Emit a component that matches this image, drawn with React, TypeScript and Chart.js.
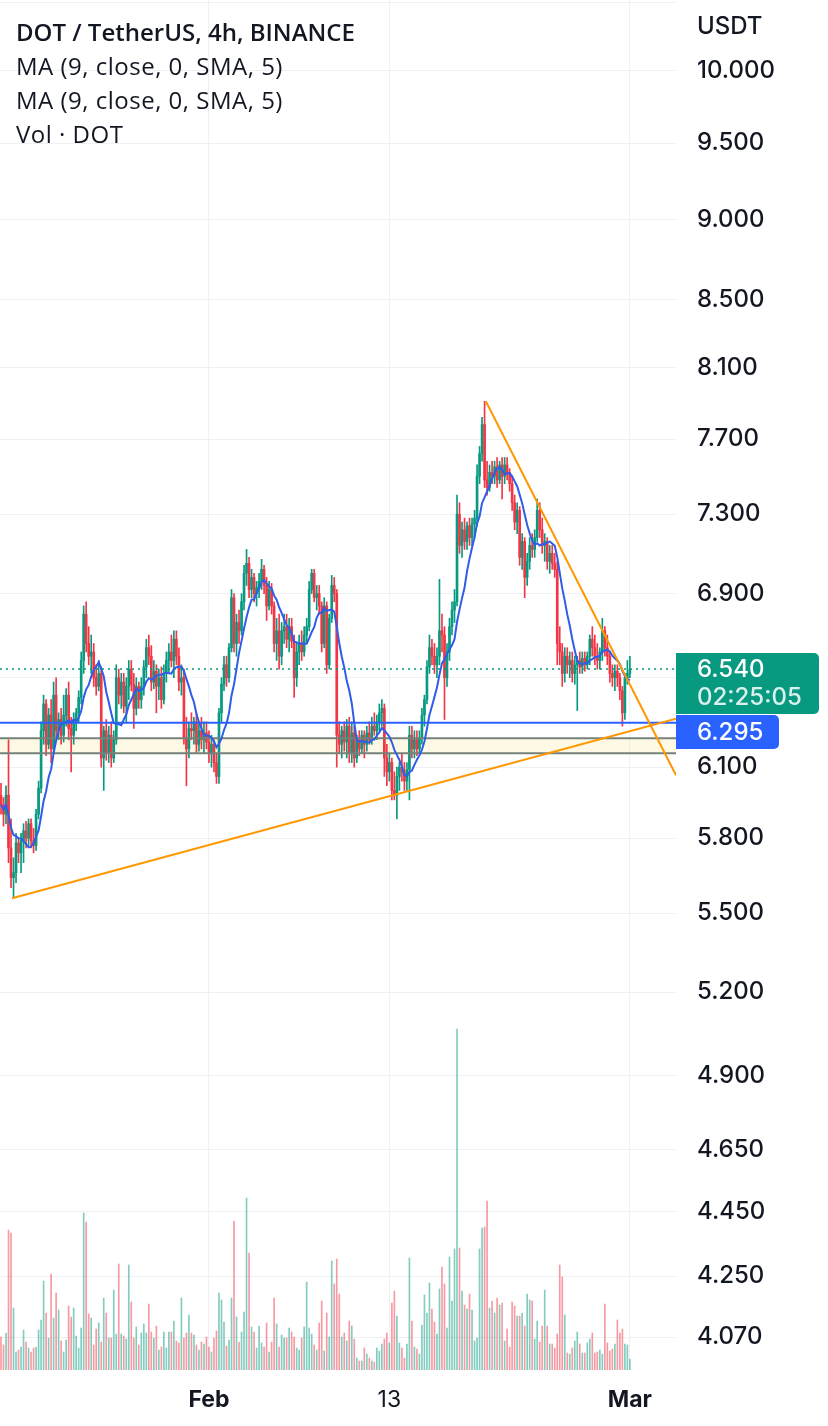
import React, { useEffect, useRef } from 'react';
import { Chart, registerables } from 'chart.js';

Chart.register(...registerables);

// ---------- texts ----------
const TITLE = 'DOT / TetherUS, 4h, BINANCE';
const LEGEND_LINES = ['MA (9, close, 0, SMA, 5)', 'MA (9, close, 0, SMA, 5)', 'Vol · DOT'];
const CURRENCY = 'USDT';
const COUNTDOWN = '02:25:05';

// ---------- levels ----------
const LAST_PRICE = 6.54;
const SUPPORT_PRICE = 6.295;
const ZONE_TOP = 6.227;
const ZONE_BOTTOM = 6.161;
const MA_LENGTH = 9;

// ---------- axes ----------
const X_MIN = -0.4;
const X_MAX = 269.4;
const Y_MIN = 3.976;
const Y_MAX = 10.517;
const VOL_MAX = 1370;

const xTickIndex = [83, 155, 251];
const xTickLabels = ['Feb', '13', 'Mar'];
const xTickBold = [true, false, true];
const yTickValues = [4.07, 4.25, 4.45, 4.65, 4.9, 5.2, 5.5, 5.8, 6.1, 6.5, 6.9, 7.3, 7.7, 8.1, 8.5, 9.0, 9.5, 10.0, 10.5];
const yTickHidden = [6.5, 10.5];

// ---------- trend lines (candle index, price) ----------
const trendUpX = [4.4, 269.4];
const trendUpY = [5.558, 6.313];
const trendDownX = [193.5, 269.4];
const trendDownY = [7.91, 6.065];

// ---------- 4h candles, Jan 18 04:00 → Mar 1 ----------
const opens = [
  5.98, 5.94, 5.90, 5.98, 5.76, 5.64, 5.66, 5.78, 5.74, 5.79,
  5.83, 5.80, 5.86, 5.79, 5.77, 5.90, 6.01, 6.26, 6.38, 6.20,
  6.33, 6.18, 6.42, 6.26, 6.31, 6.24, 6.33, 6.42, 6.27, 6.24,
  6.30, 6.34, 6.41, 6.58, 6.80, 6.66, 6.60, 6.62, 6.50, 6.46,
  6.52, 6.14, 6.26, 6.16, 6.24, 6.14, 6.22, 6.50, 6.42, 6.48,
  6.37, 6.46, 6.54, 6.47, 6.36, 6.46, 6.40, 6.46, 6.55, 6.64,
  6.60, 6.48, 6.53, 6.46, 6.50, 6.40, 6.52, 6.58, 6.62, 6.58,
  6.68, 6.60, 6.48, 6.50, 6.23, 6.18, 6.27, 6.26, 6.30, 6.20,
  6.26, 6.22, 6.25, 6.21, 6.16, 6.20, 6.12, 6.06, 6.34, 6.47,
  6.56, 6.50, 6.64, 6.88, 6.66, 6.76, 6.72, 6.86, 7.00, 7.05,
  6.92, 6.98, 6.90, 6.93, 6.96, 7.02, 6.94, 6.84, 6.92, 6.84,
  6.66, 6.72, 6.60, 6.72, 6.74, 6.68, 6.74, 6.67, 6.50, 6.62,
  6.66, 6.62, 6.70, 6.74, 6.92, 7.00, 6.88, 6.90, 6.84, 6.66,
  6.84, 6.56, 6.78, 6.94, 6.90, 6.24, 6.20, 6.26, 6.21, 6.28,
  6.16, 6.25, 6.14, 6.22, 6.18, 6.24, 6.20, 6.25, 6.22, 6.28,
  6.26, 6.30, 6.34, 6.36, 6.14, 6.08, 6.12, 6.00, 5.98, 6.06,
  6.10, 6.08, 6.04, 6.09, 6.24, 6.18, 6.22, 6.18, 6.23, 6.33,
  6.40, 6.55, 6.64, 6.60, 6.56, 6.60, 6.72, 6.70, 6.50, 6.62,
  6.74, 6.82, 6.86, 7.30, 7.14, 7.22, 7.16, 7.24, 7.18, 7.25,
  7.28, 7.50, 7.62, 7.78, 7.48, 7.44, 7.52, 7.50, 7.55, 7.48,
  7.56, 7.50, 7.56, 7.52, 7.46, 7.36, 7.26, 7.32, 7.08, 7.16,
  6.98, 7.06, 7.14, 7.12, 7.18, 7.32, 7.22, 7.14, 7.16, 7.06,
  7.10, 7.05, 7.02, 6.66, 6.62, 6.52, 6.60, 6.56, 6.58, 6.52,
  6.56, 6.58, 6.55, 6.59, 6.56, 6.60, 6.68, 6.64, 6.60, 6.58,
  6.62, 6.72, 6.64, 6.60, 6.52, 6.50, 6.53, 6.50, 6.44, 6.34,
  6.50, 6.52,
];
const highs = [
  6.03, 5.97, 6.02, 6.22, 5.88, 5.72, 5.82, 5.80, 5.82, 5.86,
  5.87, 5.88, 5.88, 5.84, 5.92, 6.04, 6.30, 6.42, 6.40, 6.36,
  6.40, 6.48, 6.50, 6.34, 6.36, 6.42, 6.45, 6.48, 6.32, 6.34,
  6.36, 6.44, 6.62, 6.84, 6.86, 6.74, 6.70, 6.66, 6.56, 6.58,
  6.55, 6.28, 6.31, 6.28, 6.30, 6.26, 6.56, 6.54, 6.52, 6.52,
  6.50, 6.58, 6.58, 6.52, 6.50, 6.48, 6.50, 6.58, 6.68, 6.70,
  6.65, 6.58, 6.56, 6.54, 6.55, 6.56, 6.62, 6.66, 6.70, 6.72,
  6.72, 6.64, 6.56, 6.54, 6.32, 6.30, 6.34, 6.32, 6.34, 6.29,
  6.32, 6.30, 6.30, 6.26, 6.24, 6.22, 6.16, 6.36, 6.50, 6.60,
  6.60, 6.66, 6.92, 6.90, 6.80, 6.82, 6.90, 7.04, 7.12, 7.08,
  7.02, 7.00, 6.96, 7.00, 7.07, 7.04, 6.98, 6.96, 6.95, 6.86,
  6.78, 6.80, 6.76, 6.80, 6.80, 6.78, 6.78, 6.70, 6.66, 6.70,
  6.72, 6.74, 6.78, 6.96, 7.02, 7.02, 6.94, 6.94, 6.86, 6.88,
  6.86, 6.80, 6.99, 6.98, 6.92, 6.30, 6.28, 6.30, 6.31, 6.32,
  6.30, 6.28, 6.24, 6.26, 6.26, 6.26, 6.28, 6.30, 6.32, 6.34,
  6.33, 6.38, 6.40, 6.38, 6.20, 6.16, 6.14, 6.08, 6.10, 6.12,
  6.16, 6.12, 6.12, 6.28, 6.28, 6.26, 6.26, 6.26, 6.36, 6.42,
  6.58, 6.70, 6.68, 6.66, 6.64, 6.97, 6.80, 6.74, 6.66, 6.78,
  6.86, 6.92, 7.40, 7.36, 7.26, 7.28, 7.26, 7.28, 7.28, 7.32,
  7.56, 7.66, 7.82, 7.91, 7.58, 7.56, 7.58, 7.58, 7.60, 7.58,
  7.60, 7.60, 7.60, 7.54, 7.50, 7.40, 7.36, 7.34, 7.20, 7.18,
  7.10, 7.18, 7.20, 7.22, 7.38, 7.36, 7.28, 7.20, 7.18, 7.14,
  7.14, 7.10, 7.06, 6.74, 6.66, 6.64, 6.64, 6.62, 6.62, 6.60,
  6.60, 6.62, 6.62, 6.62, 6.62, 6.70, 6.74, 6.70, 6.66, 6.64,
  6.78, 6.74, 6.70, 6.62, 6.56, 6.56, 6.56, 6.52, 6.46, 6.52,
  6.58, 6.60,
];
const lows = [
  5.90, 5.85, 5.86, 5.70, 5.60, 5.56, 5.62, 5.70, 5.66, 5.70,
  5.76, 5.77, 5.76, 5.74, 5.75, 5.88, 5.99, 6.20, 6.15, 6.18,
  6.12, 6.16, 6.22, 6.22, 6.20, 6.21, 6.28, 6.22, 6.08, 6.20,
  6.26, 6.30, 6.38, 6.52, 6.62, 6.56, 6.52, 6.46, 6.42, 6.44,
  6.10, 6.00, 6.13, 6.12, 6.10, 6.12, 6.20, 6.38, 6.36, 6.34,
  6.30, 6.40, 6.44, 6.27, 6.33, 6.36, 6.36, 6.42, 6.50, 6.56,
  6.44, 6.45, 6.34, 6.40, 6.36, 6.38, 6.48, 6.52, 6.55, 6.50,
  6.56, 6.44, 6.42, 6.20, 6.02, 6.14, 6.22, 6.20, 6.16, 6.17,
  6.18, 6.16, 6.18, 6.12, 6.10, 6.08, 6.03, 6.03, 6.30, 6.44,
  6.46, 6.48, 6.62, 6.62, 6.60, 6.66, 6.70, 6.82, 6.94, 6.88,
  6.88, 6.86, 6.84, 6.88, 6.92, 6.90, 6.77, 6.82, 6.80, 6.62,
  6.58, 6.54, 6.56, 6.66, 6.64, 6.62, 6.64, 6.41, 6.46, 6.56,
  6.58, 6.60, 6.66, 6.72, 6.90, 6.86, 6.82, 6.80, 6.62, 6.64,
  6.52, 6.54, 6.76, 6.86, 6.10, 6.16, 6.14, 6.17, 6.14, 6.12,
  6.12, 6.10, 6.12, 6.15, 6.16, 6.14, 6.17, 6.20, 6.20, 6.24,
  6.22, 6.26, 6.28, 6.06, 6.02, 6.04, 5.96, 5.96, 5.88, 6.00,
  6.04, 6.00, 6.00, 5.96, 6.14, 6.14, 6.15, 6.16, 6.20, 6.28,
  6.38, 6.52, 6.56, 6.52, 6.50, 6.56, 6.62, 6.31, 6.46, 6.58,
  6.70, 6.76, 6.84, 7.10, 7.08, 7.12, 7.12, 7.14, 7.14, 7.18,
  7.24, 7.46, 7.58, 7.44, 7.40, 7.42, 7.46, 7.46, 7.44, 7.46,
  7.38, 7.46, 7.48, 7.42, 7.32, 7.22, 7.20, 7.04, 7.02, 6.88,
  6.94, 7.02, 7.08, 7.08, 7.16, 7.18, 7.10, 7.06, 7.02, 7.00,
  7.02, 6.98, 6.56, 6.56, 6.46, 6.48, 6.52, 6.50, 6.48, 6.47,
  6.35, 6.52, 6.52, 6.53, 6.54, 6.56, 6.60, 6.56, 6.54, 6.54,
  6.58, 6.60, 6.56, 6.48, 6.46, 6.44, 6.46, 6.40, 6.28, 6.31,
  6.47, 6.50,
];
const closes = [
  5.94, 5.90, 5.98, 5.76, 5.64, 5.66, 5.78, 5.74, 5.79, 5.83,
  5.80, 5.86, 5.79, 5.77, 5.90, 6.01, 6.26, 6.38, 6.20, 6.33,
  6.18, 6.42, 6.26, 6.31, 6.24, 6.33, 6.42, 6.27, 6.24, 6.30,
  6.34, 6.41, 6.58, 6.80, 6.66, 6.60, 6.62, 6.50, 6.46, 6.52,
  6.14, 6.26, 6.16, 6.24, 6.14, 6.22, 6.50, 6.42, 6.48, 6.37,
  6.46, 6.54, 6.47, 6.36, 6.46, 6.40, 6.46, 6.55, 6.64, 6.60,
  6.48, 6.53, 6.46, 6.50, 6.40, 6.52, 6.58, 6.62, 6.58, 6.68,
  6.60, 6.48, 6.50, 6.23, 6.18, 6.27, 6.26, 6.30, 6.20, 6.26,
  6.22, 6.25, 6.21, 6.16, 6.20, 6.12, 6.06, 6.34, 6.47, 6.56,
  6.50, 6.64, 6.88, 6.66, 6.76, 6.72, 6.86, 7.00, 7.05, 6.92,
  6.98, 6.90, 6.93, 6.96, 7.02, 6.94, 6.84, 6.92, 6.84, 6.66,
  6.72, 6.60, 6.72, 6.74, 6.68, 6.74, 6.67, 6.50, 6.62, 6.66,
  6.62, 6.70, 6.74, 6.92, 7.00, 6.88, 6.90, 6.84, 6.66, 6.84,
  6.56, 6.78, 6.94, 6.90, 6.24, 6.20, 6.26, 6.21, 6.28, 6.16,
  6.25, 6.14, 6.22, 6.18, 6.24, 6.20, 6.25, 6.22, 6.28, 6.26,
  6.30, 6.34, 6.36, 6.14, 6.08, 6.12, 6.00, 5.98, 6.06, 6.10,
  6.08, 6.04, 6.09, 6.24, 6.18, 6.22, 6.18, 6.23, 6.33, 6.40,
  6.55, 6.64, 6.60, 6.56, 6.60, 6.72, 6.70, 6.50, 6.62, 6.74,
  6.82, 6.86, 7.30, 7.14, 7.22, 7.16, 7.24, 7.18, 7.25, 7.28,
  7.50, 7.62, 7.78, 7.48, 7.44, 7.52, 7.50, 7.55, 7.48, 7.56,
  7.50, 7.56, 7.52, 7.46, 7.36, 7.26, 7.32, 7.08, 7.16, 6.98,
  7.06, 7.14, 7.12, 7.18, 7.32, 7.22, 7.14, 7.16, 7.06, 7.10,
  7.05, 7.02, 6.66, 6.62, 6.52, 6.60, 6.56, 6.58, 6.52, 6.56,
  6.58, 6.55, 6.59, 6.56, 6.60, 6.68, 6.64, 6.60, 6.58, 6.62,
  6.72, 6.64, 6.60, 6.52, 6.50, 6.53, 6.50, 6.44, 6.34, 6.50,
  6.52, 6.54,
];
// volume, in units of 10k DOT
const volumes = [
  33, 25, 37, 140, 137, 62, 18, 20, 23, 40,
  28, 22, 18, 22, 23, 40, 50, 89, 57, 32,
  96, 52, 77, 60, 29, 18, 30, 64, 53, 62,
  34, 22, 42, 157, 148, 56, 52, 25, 41, 47,
  28, 72, 57, 32, 32, 80, 36, 106, 36, 34,
  31, 105, 68, 32, 43, 25, 37, 46, 37, 66,
  38, 32, 44, 20, 23, 38, 22, 38, 38, 49,
  29, 27, 72, 32, 37, 55, 37, 35, 25, 20,
  28, 26, 33, 23, 18, 32, 39, 77, 70, 48,
  24, 30, 72, 149, 53, 28, 38, 58, 172, 117,
  43, 38, 22, 44, 27, 23, 47, 18, 28, 72,
  46, 23, 35, 32, 32, 42, 38, 33, 22, 20,
  32, 43, 88, 42, 36, 25, 20, 47, 69, 19,
  57, 33, 109, 86, 111, 76, 33, 37, 29, 49,
  44, 31, 12, 9, 9, 22, 16, 12, 9, 8,
  22, 19, 26, 31, 37, 27, 67, 79, 54, 27,
  22, 12, 26, 112, 49, 23, 21, 16, 45, 75,
  57, 87, 61, 48, 36, 81, 103, 86, 42, 113,
  69, 121, 341, 122, 79, 65, 61, 76, 60, 29,
  32, 121, 142, 143, 169, 62, 69, 57, 72, 65,
  67, 29, 41, 23, 68, 64, 54, 54, 57, 44,
  76, 70, 69, 31, 49, 28, 44, 80, 44, 26,
  26, 22, 36, 105, 93, 55, 17, 16, 22, 29,
  38, 26, 17, 17, 27, 31, 37, 17, 18, 20,
  16, 66, 27, 19, 21, 26, 50, 37, 41, 26,
  25, 11,
];

// ---------- styles ----------
const GREEN = '#089981';
const RED = '#f23645';
const VOL_GREEN = 'rgba(8, 153, 129, 0.5)';
const VOL_RED = 'rgba(242, 54, 69, 0.5)';
const MA_COLOR = '#2f5ce8';
const SUPPORT_COLOR = '#2962ff';
const TREND_COLOR = '#ff9800';
const ZONE_LINE = '#74827a';
const ZONE_FILL = 'rgba(250, 226, 120, 0.2)';
const GRID = '#eef0f3';
const TEXT = '#131722';
const AXIS_FONT = 'Inter, Roboto, "Noto Sans", sans-serif';
const X_FONT = 'Inter, Roboto, sans-serif';
const LEGEND_FONT = '"Open Sans", "Noto Sans", sans-serif';

function roundRight(ctx: CanvasRenderingContext2D, x: number, y: number, w: number, h: number, r: number) {
  ctx.beginPath();
  ctx.moveTo(x, y);
  ctx.lineTo(x + w - r, y);
  ctx.arcTo(x + w, y, x + w, y + r, r);
  ctx.lineTo(x + w, y + h - r);
  ctx.arcTo(x + w, y + h, x + w - r, y + h, r);
  ctx.lineTo(x, y + h);
  ctx.closePath();
}

const priceTags = {
  id: 'priceTags',
  afterDraw(chart: any) {
    const { ctx, chartArea, scales } = chart;
    const y = scales.y;
    const x0 = chartArea.right;
    const yLast = y.getPixelForValue(LAST_PRICE);
    ctx.save();
    ctx.font = `500 24px ${AXIS_FONT}`;
    ctx.textBaseline = 'middle';
    ctx.textAlign = 'left';
    // last price tag
    ctx.fillStyle = GREEN;
    roundRight(ctx, x0, yLast - 16, 143, 61, 5);
    ctx.fill();
    ctx.fillStyle = '#ffffff';
    ctx.fillText(LAST_PRICE.toFixed(3), x0 + 21, yLast + 1);
    ctx.fillStyle = 'rgba(255,255,255,0.85)';
    ctx.fillText(COUNTDOWN, x0 + 21, yLast + 29);
    // support tag
    const ySup = y.getPixelForValue(SUPPORT_PRICE);
    const top = Math.max(ySup - 17, yLast + 46);
    ctx.fillStyle = SUPPORT_COLOR;
    roundRight(ctx, x0, top, 103, 34, 5);
    ctx.fill();
    ctx.fillStyle = '#ffffff';
    ctx.fillText(SUPPORT_PRICE.toFixed(3), x0 + 21, top + 18);
    // currency
    ctx.fillStyle = TEXT;
    ctx.fillText(CURRENCY, x0 + 21, 27);
    ctx.restore();
  },
};

export default function App() {
  const ref = useRef<HTMLCanvasElement>(null);

  useEffect(() => {
    document.body.style.margin = '0';
    const idx = closes.map((_, i) => i);
    const isUp = idx.map((i) => closes[i] >= opens[i]);
    const ma = idx.map((i) => {
      const w = closes.slice(Math.max(0, i - MA_LENGTH + 1), i + 1);
      return w.reduce((a, b) => a + b, 0) / w.length;
    });
    const flat = (v: number) => [{ x: X_MIN, y: v }, { x: X_MAX, y: v }];

    const chart = new Chart(ref.current as HTMLCanvasElement, {
      type: 'bar',
      data: {
        datasets: [
          {
            type: 'line', label: 'Trend up',
            data: trendUpX.map((x, k) => ({ x, y: trendUpY[k] })),
            borderColor: TREND_COLOR, borderWidth: 2, pointRadius: 0, order: 1,
          },
          {
            type: 'line', label: 'Trend down',
            data: trendDownX.map((x, k) => ({ x, y: trendDownY[k] })),
            borderColor: TREND_COLOR, borderWidth: 2, pointRadius: 0, order: 1,
          },
          {
            type: 'line', label: 'MA 9',
            data: idx.map((i) => ({ x: i, y: ma[i] })),
            borderColor: MA_COLOR, borderWidth: 2, pointRadius: 0, order: 2,
          },
          {
            type: 'line', label: 'Support',
            data: flat(SUPPORT_PRICE),
            borderColor: SUPPORT_COLOR, borderWidth: 2, pointRadius: 0, order: 3,
          },
          {
            type: 'line', label: 'Last price',
            data: flat(LAST_PRICE),
            borderColor: GREEN, borderWidth: 1.5, borderDash: [2, 4], pointRadius: 0, order: 3,
          },
          {
            type: 'line', label: 'Zone top',
            data: flat(ZONE_TOP),
            borderColor: ZONE_LINE, borderWidth: 2, pointRadius: 0, order: 4,
            fill: '+1', backgroundColor: ZONE_FILL,
          },
          {
            type: 'line', label: 'Zone bottom',
            data: flat(ZONE_BOTTOM),
            borderColor: ZONE_LINE, borderWidth: 2, pointRadius: 0, order: 4,
          },
          {
            type: 'bar', label: 'Bodies',
            data: idx.map((i) => ({ x: i, y: [opens[i], closes[i]] })),
            backgroundColor: idx.map((i) => (isUp[i] ? GREEN : RED)),
            barThickness: 2, grouped: false, order: 5,
          },
          {
            type: 'bar', label: 'Wicks',
            data: idx.map((i) => ({ x: i, y: [lows[i], highs[i]] })),
            backgroundColor: idx.map((i) => (isUp[i] ? GREEN : RED)),
            barThickness: 1, grouped: false, order: 6,
          },
          {
            type: 'bar', label: 'Volume', yAxisID: 'yv',
            data: idx.map((i) => ({ x: i, y: volumes[i] })),
            backgroundColor: idx.map((i) => (isUp[i] ? VOL_GREEN : VOL_RED)),
            barThickness: 1, grouped: false, order: 7,
          },
        ] as any,
      },
      options: {
        animation: false,
        responsive: false,
        maintainAspectRatio: false,
        events: [],
        layout: { padding: 0 },
        plugins: {
          legend: { display: false },
          tooltip: { enabled: false },
          filler: { drawTime: 'beforeDatasetsDraw' },
        } as any,
        scales: {
          x: {
            type: 'linear',
            min: X_MIN,
            max: X_MAX,
            offset: false,
            border: { display: false },
            grid: { color: GRID, drawTicks: false, offset: false, lineWidth: 1 },
            afterBuildTicks: (s: any) => { s.ticks = xTickIndex.map((v) => ({ value: v })); },
            afterFit: (s: any) => { s.height = 56; s.paddingLeft = 0; s.paddingRight = 0; },
            ticks: {
              autoSkip: false,
              maxRotation: 0,
              padding: 16,
              color: TEXT,
              callback: (_v: any, i: number) => xTickLabels[i],
              font: (c: any) => ({ family: X_FONT, size: 23, weight: xTickBold[c.index] ? 'bold' : 'normal' }),
            },
          },
          y: {
            type: 'logarithmic',
            position: 'right',
            min: Y_MIN,
            max: Y_MAX,
            bounds: 'data',
            border: { display: false },
            grid: { color: GRID, drawTicks: false, lineWidth: 1 },
            afterBuildTicks: (s: any) => { s.ticks = yTickValues.map((v) => ({ value: v })); },
            afterFit: (s: any) => { s.width = 152; s.paddingTop = 0; s.paddingBottom = 0; },
            ticks: {
              autoSkip: false,
              padding: 21,
              color: TEXT,
              font: { family: AXIS_FONT, size: 24, weight: '500' },
              callback: (v: any) => (yTickHidden.includes(Number(v)) ? '' : Number(v).toFixed(3)),
            },
          },
          yv: {
            type: 'linear',
            display: false,
            min: 0,
            max: VOL_MAX,
            grid: { display: false },
          },
        } as any,
      },
      plugins: [priceTags],
    } as any);
    return () => chart.destroy();
  }, []);

  return (
    <div style={{ position: 'absolute', left: 0, top: 0, width: 828, height: 1426, background: '#ffffff' }}>
      <canvas ref={ref} width={828} height={1426} style={{ display: 'block' }} />
      <div
        style={{
          position: 'absolute', left: 16, top: 15, fontFamily: LEGEND_FONT, fontSize: 24,
          lineHeight: '34px', color: TEXT, whiteSpace: 'nowrap',
        }}
      >
        <div style={{ fontWeight: 600 }}>{TITLE}</div>
        {LEGEND_LINES.map((t, k) => (
          <div key={k} style={{ letterSpacing: '0.5px' }}>{t}</div>
        ))}
      </div>
    </div>
  );
}
